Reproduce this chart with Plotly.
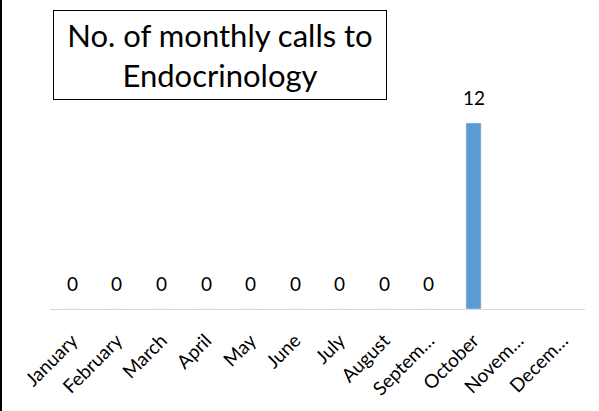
import plotly.graph_objects as go

months = ["January", "February", "March", "April", "May", "June", "July",
          "August", "September", "October", "November", "December"]
tick_labels = ["January", "February", "March", "April", "May", "June", "July",
               "August", "Septem…", "October", "Novem…", "Decem…"]
calls = [0, 0, 0, 0, 0, 0, 0, 0, 0, 12, None, None]
title_text = "No. of monthly calls to<br>Endocrinology"

W, H = 599, 411
L, R, T, B = 50, 14, 92, 102
font = "Lato"

fig = go.Figure()
fig.add_trace(go.Bar(x=months, y=calls, marker_color="#5B9BD5", width=0.34,
                     hoverinfo="skip"))

for m, v in zip(months, calls):
    if v is None:
        continue
    fig.add_annotation(x=m, y=v, text=str(v), showarrow=False, yshift=26,
                       font=dict(family=font, size=19, color="#000000"))

pw = W - L - R
ph = H - T - B
fig.add_annotation(xref="paper", yref="paper",
                   x=(53 - L) / pw, y=(H - B - 10) / ph,
                   xanchor="left", yanchor="top",
                   text=title_text, showarrow=False, align="center",
                   font=dict(family=font, size=31, color="#000000"),
                   bordercolor="#000000", borderwidth=1, borderpad=2,
                   bgcolor="white", width=328, height=84)

fig.add_shape(type="rect", xref="paper", yref="paper",
              x0=-L / pw, x1=(2 - L) / pw, y0=-B / ph, y1=(H - B) / ph,
              fillcolor="black", line_width=0, layer="above")

fig.update_layout(
    width=W, height=H,
    margin=dict(l=L, r=R, t=T, b=B, pad=0, autoexpand=False),
    paper_bgcolor="white", plot_bgcolor="white",
    showlegend=False,
    xaxis=dict(tickmode="array", tickvals=months, ticktext=tick_labels,
               tickangle=-45, tickfont=dict(family=font, size=19, color="#000000"),
               showline=True, linecolor="#D9D9D9", linewidth=1, automargin=False,
               showgrid=False, ticks="", ticklabelstandoff=12, fixedrange=True),
    yaxis=dict(range=[0, 14], visible=False, fixedrange=True, automargin=False),
)

fig.write_html("out.html", config={"displayModeBar": False},
               post_script="document.body.style.margin='0';document.body.style.overflow='hidden';")
